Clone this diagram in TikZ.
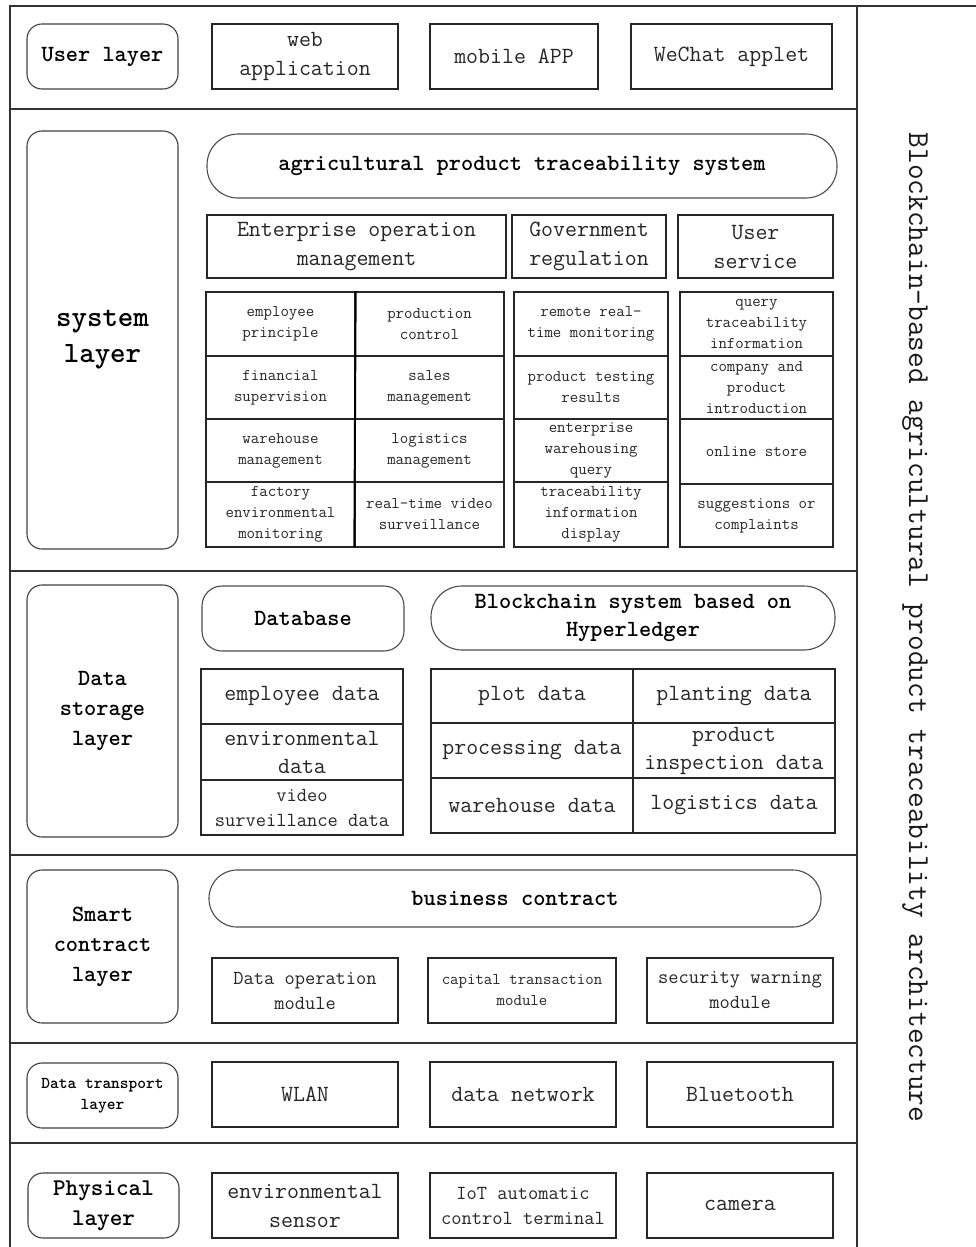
\documentclass[tikz,border=0pt]{standalone}
\usepackage{fontspec}
\newcommand\myfs[2]{\ttfamily\fontsize{#1}{#2}\selectfont}
\begin{document}
\begin{tikzpicture}[x=1pt,y=-1pt,
  frame/.style={draw=black!80, line width=1.3pt},
  lbl/.style={draw=black!75, line width=1.1pt, rounded corners=15pt, align=center, inner sep=0pt,
    minimum width=151pt, font=\myfs{23.2}{30}\bfseries},
  box/.style={draw=black!85, line width=1.2pt, align=center, inner sep=0pt, text=black!85,
    font=\myfs{23.2}{29}},
  midbox/.style={box, font=\myfs{19.9}{25}},
  cell/.style={box, line width=1.3pt, font=\myfs{16.4}{21}},
  pill/.style={draw=black!70, line width=1.1pt, align=center, inner sep=0pt,
    font=\myfs{23.2}{28}\bfseries},
]
\useasboundingbox (0,0) rectangle (976,1247);
\fill[white] (0,0) rectangle (976,1247);

% frame
\draw[frame] (10,1247) -- (10,6) -- (976,6);
\draw[frame] (857,6) -- (857,1247);
\foreach \yy in {109,571,855,1043,1143} \draw[frame] (10,\yy) -- (857,\yy);

% title
\node[rotate=-90, font=\myfs{30.5}{32}, text=black!90] (title) at (915,627.5)
  {Blockchain-based agricultural product traceability architecture};

% layer labels
\node[lbl, minimum height=65pt] (Luser) at (102.5,56.5) {User layer};
\node[lbl, minimum height=418pt, font=\myfs{29.5}{36}\bfseries] (Lsys) at (102.5,340) {system\\layer};
\node[lbl, minimum height=252pt] (Lstore) at (102.5,711) {Data\\storage\\layer};
\node[lbl, minimum height=153pt] (Lsmart) at (102.5,946.5) {Smart\\contract\\layer};
\node[lbl, minimum height=65pt, font=\myfs{16.6}{21}\bfseries] (Ltrans) at (102.5,1095.5) {Data transport\\layer};
\node[lbl, minimum height=65pt, font=\myfs{24}{30}\bfseries] (Lphys) at (103.5,1205.5) {Physical\\layer};

% user layer
\node[box, minimum width=186pt, minimum height=65pt] (web) at (305,56.5) {web\\application};
\node[box, minimum width=168pt, minimum height=65pt] (mobile) at (514,56.5) {mobile APP};
\node[box, minimum width=201pt, minimum height=65pt] (wechat) at (731.5,56.5) {WeChat applet};

% system layer
\node[pill, minimum width=630pt, minimum height=64pt, rounded corners=31pt] (agri) at (522,166) {agricultural product traceability system};
\node[box, minimum width=299pt, minimum height=63pt] (ent) at (356.5,246.5) {Enterprise operation\\management};
\node[box, minimum width=154pt, minimum height=63pt] (gov) at (589,246.5) {Government\\regulation};
\node[box, minimum width=155pt, minimum height=63pt] (usv) at (755.5,246.5) {User\\service};

% enterprise grid
\node[cell, minimum width=149pt, minimum height=64pt] (e11) at (280.5,324) {employee\\principle};
\node[cell, minimum width=149pt, minimum height=64pt] (e12) at (429.5,324) {production\\control};
\node[cell, minimum width=149pt, minimum height=63pt] (e21) at (280.5,387.5) {financial\\supervision};
\node[cell, minimum width=149pt, minimum height=63pt] (e22) at (429.5,387.5) {sales\\management};
\node[cell, minimum width=149pt, minimum height=63pt] (e31) at (280.5,450.5) {warehouse\\management};
\node[cell, minimum width=149pt, minimum height=63pt] (e32) at (429.5,450.5) {logistics\\management};
\node[cell, minimum width=149pt, minimum height=65pt] (e41) at (280.5,514.5) {factory\\environmental\\monitoring};
\node[cell, minimum width=149pt, minimum height=65pt] (e42) at (429.5,514.5) {real-time video\\surveillance};
\draw[line width=2pt] (e11.north east) -- (e42.south west);

% government grid
\node[cell, minimum width=154pt, minimum height=64pt] (g1) at (591,324) {remote real-\\time monitoring};
\node[cell, minimum width=154pt, minimum height=63pt] (g2) at (591,387.5) {product testing\\results};
\node[cell, minimum width=154pt, minimum height=63pt] (g3) at (591,450.5) {enterprise\\warehousing\\query};
\node[cell, minimum width=154pt, minimum height=65pt] (g4) at (591,514.5) {traceability\\information\\display};

% user service grid
\node[cell, minimum width=153pt, minimum height=64pt] (u1) at (756.5,324) {query\\traceability\\information};
\node[cell, minimum width=153pt, minimum height=63pt] (u2) at (756.5,387.5) {company and\\product\\introduction};
\node[cell, minimum width=153pt, minimum height=65pt] (u3) at (756.5,451.5) {online store};
\node[cell, minimum width=153pt, minimum height=63pt] (u4) at (756.5,515.5) {suggestions or\\complaints};

% data storage layer
\node[pill, minimum width=202pt, minimum height=65pt, rounded corners=20pt] (db) at (303,618.5) {Database};
\node[pill, minimum width=404pt, minimum height=64pt, rounded corners=31pt] (bc) at (633,618) {Blockchain system based on\\Hyperledger};
\node[box, minimum width=202pt, minimum height=55pt] (d1) at (302,696.5) {employee data};
\node[box, minimum width=202pt, minimum height=56pt, font=\myfs{23.2}{28}] (d2) at (302,752) {environmental\\data};
\node[box, minimum width=202pt, minimum height=55pt, font=\myfs{19.9}{25}] (d3) at (302,807.5) {video\\surveillance data};
\node[box, minimum width=202pt, minimum height=54pt] (b11) at (532,696) {plot data};
\node[box, minimum width=202pt, minimum height=54pt] (b12) at (734,696) {planting data};
\node[box, minimum width=202pt, minimum height=55pt] (b21) at (532,750.5) {processing data};
\node[box, minimum width=202pt, minimum height=55pt, font=\myfs{23.2}{28}] (b22) at (734,750.5) {product\\inspection data};
\node[box, minimum width=202pt, minimum height=55pt] (b31) at (532,805.5) {warehouse data};
\node[box, minimum width=202pt, minimum height=55pt] (b32) at (734,805.5) {logistics data};

% smart contract layer
\node[pill, minimum width=612pt, minimum height=57pt, rounded corners=28pt] (biz) at (515,898.5) {business contract};
\node[midbox, minimum width=186pt, minimum height=65pt] (m1) at (305,990.5) {Data operation\\module};
\node[cell, line width=1.2pt, minimum width=188pt, minimum height=65pt] (m2) at (522,990.5) {capital transaction\\module};
\node[midbox, minimum width=186pt, minimum height=65pt] (m3) at (740,990.5) {security warning\\module};

% data transport layer
\node[box, minimum width=186pt, minimum height=65pt] (t1) at (305,1094.5) {WLAN};
\node[box, minimum width=186pt, minimum height=65pt] (t2) at (523,1094.5) {data network};
\node[box, minimum width=186pt, minimum height=65pt] (t3) at (740,1094.5) {Bluetooth};

% physical layer
\node[box, minimum width=186pt, minimum height=65pt] (p1) at (305,1205.5) {environmental\\sensor};
\node[midbox, minimum width=186pt, minimum height=65pt] (p2) at (523,1205.5) {IoT automatic\\control terminal};
\node[box, minimum width=186pt, minimum height=65pt] (p3) at (740,1205.5) {camera};
\end{tikzpicture}
\end{document}
